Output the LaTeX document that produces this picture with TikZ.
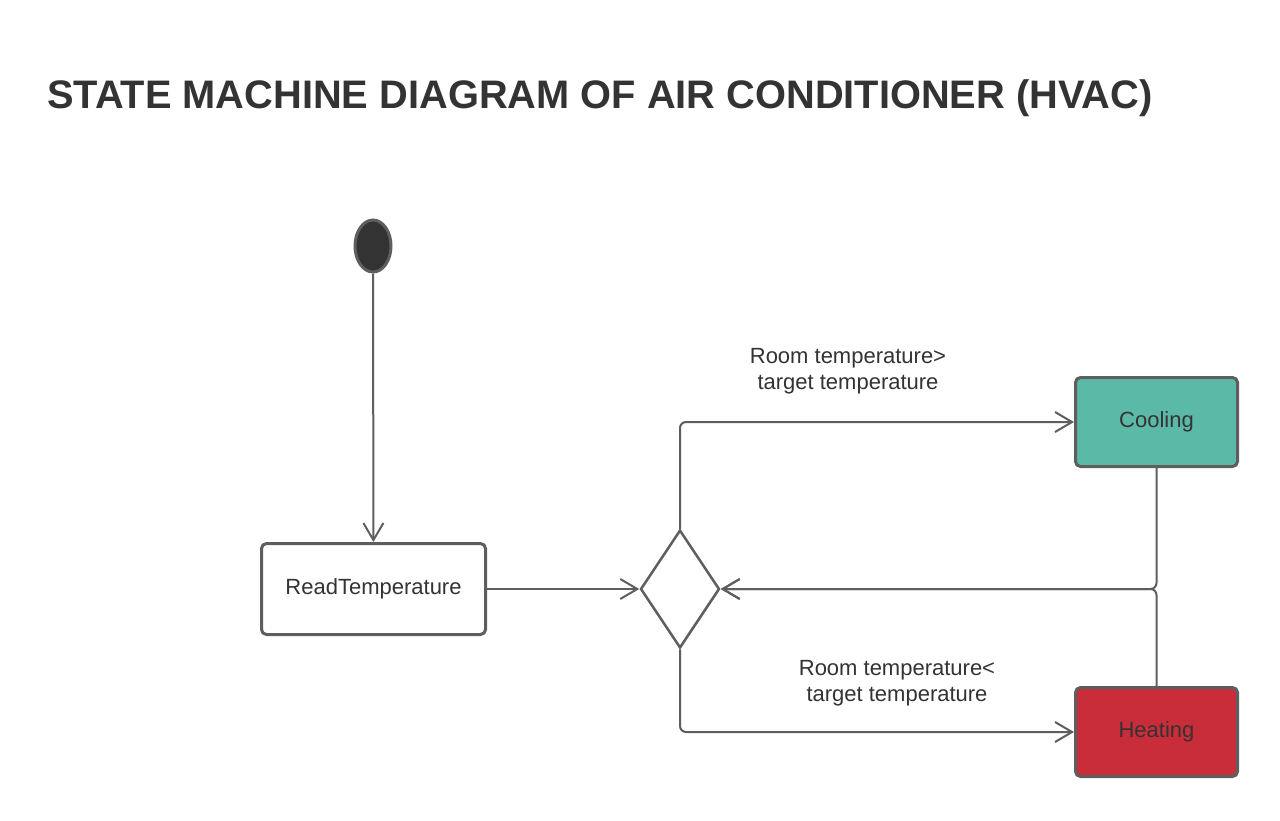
\documentclass[tikz,border=0pt]{standalone}
\usepackage{fontspec}
\setmainfont{Liberation Sans}
\usetikzlibrary{arrows.meta,shapes.geometric}
\definecolor{linec}{HTML}{5E5E5E}
\definecolor{textc}{HTML}{333333}
\definecolor{coolc}{HTML}{5BBAA7}
\definecolor{heatc}{HTML}{C92D39}
\begin{document}
\begin{tikzpicture}[x=1pt,y=-1pt,
  statebox/.style={draw=linec, line width=3pt, rounded corners=5pt, inner sep=0pt,
    text=textc, font=\fontsize{22}{26}\selectfont},
  conn/.style={draw=linec, line width=2pt, rounded corners=6pt,
    -{Straight Barb[length=17pt,width=20pt]}},
  lbl/.style={text=textc, align=center, font=\fontsize{22}{26}\selectfont},
  ttl/.style={text=textc, font=\fontsize{39.8}{46}\selectfont\bfseries, inner sep=0pt, anchor=base west}]
\useasboundingbox (0,0) rectangle (1280,820);
\fill[white] (0,0) rectangle (1280,820);
\node[ttl] (title) at (47,108) {STATE MACHINE DIAGRAM OF AIR CONDITIONER (HVAC)};
\node[ellipse, draw=linec, fill=textc, line width=3pt, minimum width=36pt, minimum height=52pt, inner sep=0pt] (init) at (373,246) {};
\node[statebox, fill=white, minimum width=224pt, minimum height=91pt] (read) at (373.5,589) {ReadTemperature};
\node[diamond, draw=linec, line width=2.5pt, minimum width=79pt, minimum height=118pt, inner sep=0pt] (dec) at (680,589) {};
\node[statebox, fill=coolc, minimum width=162pt, minimum height=89pt] (cool) at (1156.5,422) {Cooling};
\node[statebox, fill=heatc, minimum width=162pt, minimum height=89pt] (heat) at (1156.5,732) {Heating};
\draw[conn] (init) -- (read);
\draw[conn] (read) -- (dec);
\draw[conn] (dec.north) |- (cool.west);
\draw[conn] (dec.south) |- (heat.west);
\draw[conn] (cool.south) |- (dec.east);
\draw[conn] (heat.north) |- (dec.east);
\node[lbl] (lup) at (848,371.5) {Room temperature>\\target temperature};
\node[lbl] (ldown) at (897,683.5) {Room temperature<\\target temperature};
\end{tikzpicture}
\end{document}
